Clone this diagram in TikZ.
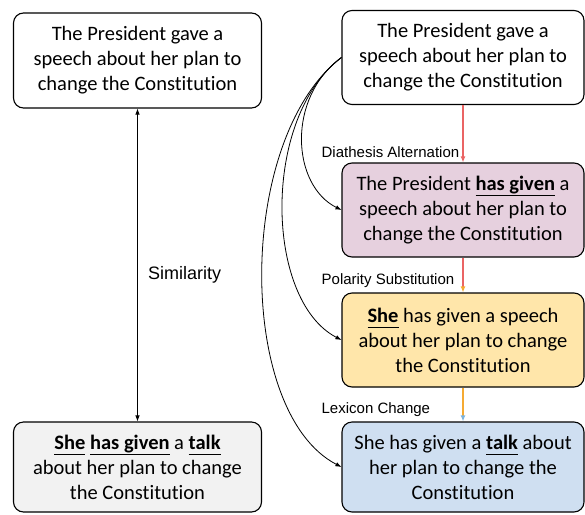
\documentclass[tikz,border=0pt]{standalone}
\usepackage{fontspec}
\setmainfont[Ligatures = NoCommon]{Carlito}
\newfontfamily\labelFont{Liberation Sans}
\usetikzlibrary{positioning, arrows.meta}
\definecolor{pinkFill}{RGB}{230,208,222}
\definecolor{yellowFill}{RGB}{255,230,170}
\definecolor{blueFill}{RGB}{207,223,241}
\definecolor{greyFill}{RGB}{242,242,242}
\definecolor{edgeRed}{RGB}{234,100,100}
\definecolor{edgeOrange}{RGB}{245,170,50}
\definecolor{edgeBlue}{RGB}{125,180,222}
\tikzstyle{canvas} = [x = 1pt, y = -1pt]
\tikzstyle{sentenceBox} = [draw = black, line width = 1.1pt, rounded corners = 10pt, align = center, inner sep = 0pt, minimum width = 242pt, minimum height = 94pt, font = \fontsize{20.5}{25}\selectfont]
\tikzstyle{edgeLabel} = [anchor = base west, inner sep = 0pt, font = \labelFont\fontsize{15}{18}\selectfont]
\tikzstyle{flowEdge} = [line width = 1.2pt]
\tikzstyle{linkEdge} = [line width = .8pt, -{Latex[length = 6pt, width = 4.5pt]}]
\newcommand{\keyWord}[1]{\underline{\textbf{#1}\vphantom{g}}}

\begin{document}
\begin{tikzpicture}[canvas]
  \useasboundingbox (0, 0) rectangle (585, 514);

  % left column
  \node [sentenceBox, minimum width = 248pt, minimum height = 95pt] (original) at (137.5, 60.5)
    {The President gave a\\speech about her plan to\\change the Constitution};
  \node [sentenceBox, fill = greyFill, minimum width = 248pt, minimum height = 90pt] (paraphrase) at (137.5, 467)
    {\keyWord{She} \keyWord{has given} a \keyWord{talk}\\about her plan to change\\the Constitution};
  \draw [linkEdge, {Latex[length = 6pt, width = 4.5pt]}-{Latex[length = 6pt, width = 4.5pt]}] (original) -- (paraphrase)
    node [pos = .53, right = 7pt, font = \labelFont\fontsize{18}{20}\selectfont] (similarity) {Similarity};

  % right column
  \node [sentenceBox] (source) at (463, 57.5)
    {The President gave a\\speech about her plan to\\change the Constitution};
  \node [sentenceBox, fill = pinkFill] (diathesis) at (463, 210)
    {The President \keyWord{has given} a\\speech about her plan to\\change the Constitution};
  \node [sentenceBox, fill = yellowFill] (polarity) at (463, 340)
    {\keyWord{She} has given a speech\\about her plan to change\\the Constitution};
  \node [sentenceBox, fill = blueFill, minimum height = 90pt] (lexicon) at (463, 467)
    {She has given a \keyWord{talk} about\\her plan to change the\\Constitution};

  \draw [flowEdge, edgeRed, -{Latex[length = 6pt, width = 5pt, color = edgeRed]}] (source) -- (diathesis);
  \draw [flowEdge, edgeRed, -{Latex[length = 6pt, width = 5pt, color = edgeOrange]}] (diathesis) -- (polarity);
  \draw [flowEdge, edgeOrange, -{Latex[length = 6pt, width = 5pt, color = edgeBlue]}] (polarity) -- (lexicon);

  \node [edgeLabel] (labDiathesis) at ([xshift = -20pt, yshift = 5pt] diathesis.north west) {Diathesis Alternation};
  \node [edgeLabel] (labPolarity) at ([xshift = -20pt, yshift = 8pt] polarity.north west) {Polarity Substitution};
  \node [edgeLabel] (labLexicon) at ([xshift = -20pt, yshift = 8pt] lexicon.north west) {Lexicon Change};

  % one curve from the source to every rewrite
  \draw [linkEdge] (source.west) .. controls +(-55, 40) and +(-50, -25) .. (diathesis.west);
  \draw [linkEdge] (source.west) .. controls +(-80, 60) and +(-77, -40) .. (polarity.west);
  \draw [linkEdge] (source.west) .. controls +(-105, 80) and +(-106, -55) .. (lexicon.west);
\end{tikzpicture}
\end{document}
